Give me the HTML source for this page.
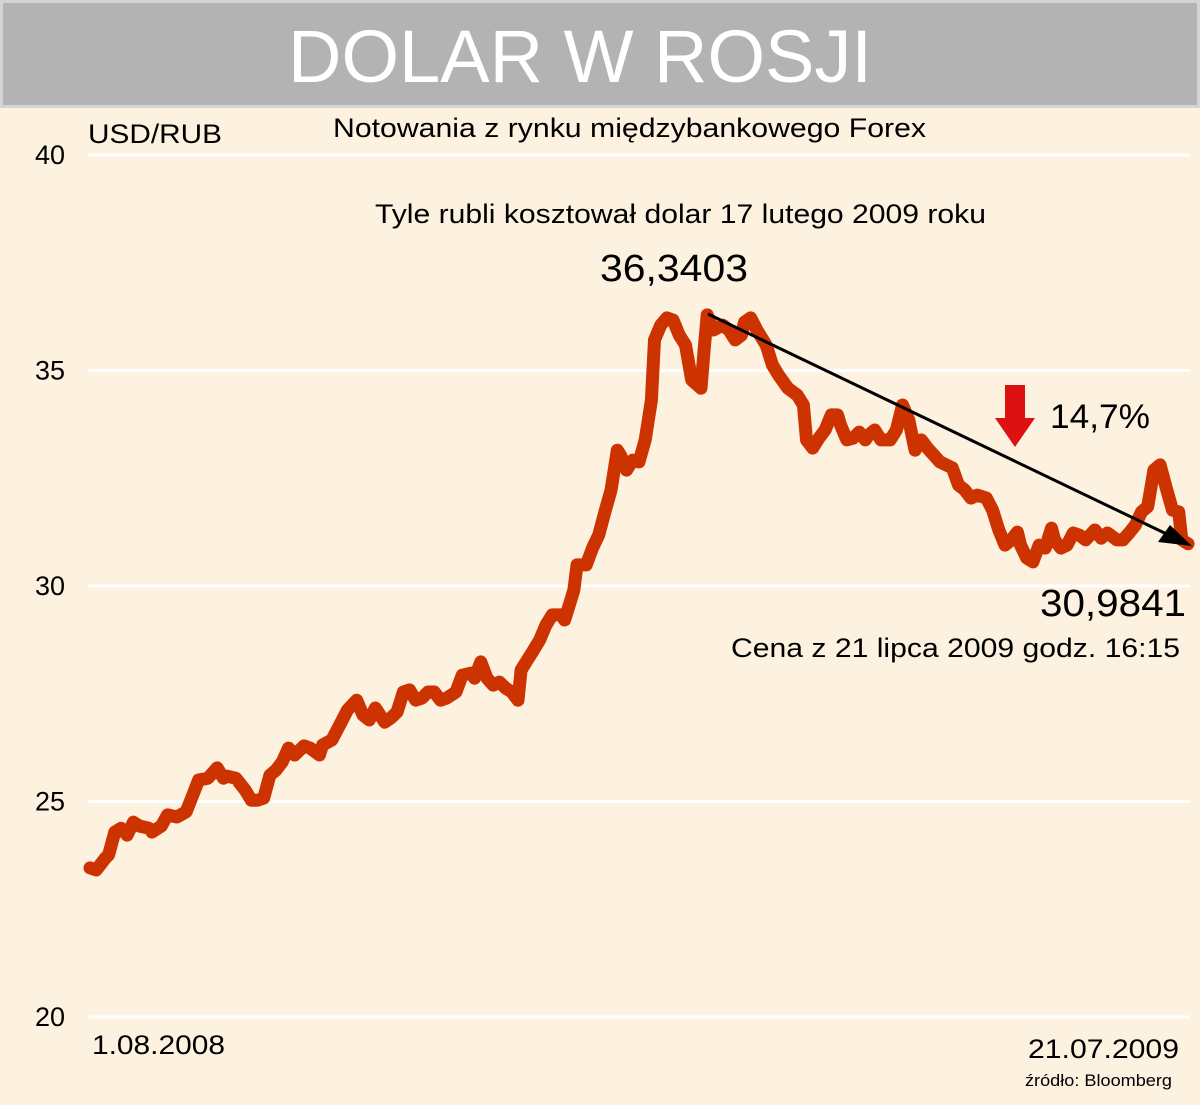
<!DOCTYPE html>
<html><head><meta charset="utf-8"><style>
html,body{margin:0;padding:0;background:#fdf1e0;}
svg{display:block;font-family:"Liberation Sans",sans-serif;}
</style></head><body>
<svg width="1200" height="1105" viewBox="0 0 1200 1105">
<rect x="0" y="0" width="1200" height="1105" fill="#fdf1e0"/>
<rect x="1.5" y="1.5" width="1197" height="105" fill="#b3b3b3" stroke="#d4d4d4" stroke-width="3"/>
<text x="288" y="82" font-size="74" fill="#fff" textLength="584" lengthAdjust="spacingAndGlyphs">DOLAR W ROSJI</text>
<g id="grid"></g>
<g id="ylabels"></g>
<text x="88" y="143" font-size="27" textLength="134" lengthAdjust="spacingAndGlyphs">USD/RUB</text>
<text x="333" y="137" font-size="27" textLength="593" lengthAdjust="spacingAndGlyphs">Notowania z rynku międzybankowego Forex</text>
<text x="375" y="223" font-size="27" textLength="611" lengthAdjust="spacingAndGlyphs">Tyle rubli kosztował dolar 17 lutego 2009 roku</text>
<text x="600" y="281" font-size="38" textLength="148" lengthAdjust="spacingAndGlyphs">36,3403</text>
<path id="line" fill="none" stroke="#cc3300" stroke-width="13" stroke-linejoin="round" stroke-linecap="round"/>
<line x1="708" y1="314" x2="1175" y2="538" stroke="#000" stroke-width="3"/>
<polygon points="1192,546 1158,542 1170,525" fill="#000"/>
<polygon points="1005,385 1025,385 1025,418 1035,418 1015,447 995,418 1005,418" fill="#dd1111"/>
<text x="1050" y="428" font-size="34" textLength="100" lengthAdjust="spacingAndGlyphs">14,7%</text>
<text x="1040" y="616" font-size="38" textLength="146" lengthAdjust="spacingAndGlyphs">30,9841</text>
<text x="731" y="657" font-size="27" textLength="449" lengthAdjust="spacingAndGlyphs">Cena z 21 lipca 2009 godz. 16:15</text>
<text x="92" y="1054" font-size="27" textLength="133" lengthAdjust="spacingAndGlyphs">1.08.2008</text>
<text x="1028" y="1058" font-size="27" textLength="151" lengthAdjust="spacingAndGlyphs">21.07.2009</text>
<text x="1025" y="1086" font-size="17" textLength="147" lengthAdjust="spacingAndGlyphs">źródło: Bloomberg</text>
</svg>
<script>
const yTicks=[20,25,30,35,40];
const yTickLabels=["20","25","30","35","40"];
const days=[0,2,5,6,8,10,12,14,16,19,20,23,25,28,31,34,35,38,41,43,44,47,50,52,54,56,58,60,62,64,66,69,71,74,75,78,81,83,86,88,90,92,95,97,99,101,103,105,107,109,111,113,115,118,120,123,124,126,128,130,132,134,136,138,139,141,143,145,147,149,152,153,155,156,157,160,162,164,166,168,170,171,173,175,177,179,181,182,184,186,188,190,192,194,197,198,199,201,204,206,208,210,211,213,215,218,220,222,225,228,230,231,233,235,237,239,241,242,244,246,248,250,251,253,255,258,260,262,264,266,268,270,272,274,276,278,280,282,284,286,289,291,293,295,297,299,300,302,304,306,308,310,311,313,315,317,319,321,324,326,328,329,331,333,335,337,339,341,343,345,347,349,351,352,354];
const values=[23.46,23.41,23.69,23.76,24.29,24.38,24.22,24.52,24.43,24.38,24.29,24.43,24.69,24.64,24.76,25.31,25.50,25.54,25.78,25.54,25.59,25.54,25.27,25.03,25.03,25.08,25.61,25.73,25.92,26.24,26.08,26.29,26.24,26.08,26.31,26.43,26.84,27.12,27.35,27.01,26.89,27.17,26.84,26.94,27.08,27.54,27.59,27.35,27.40,27.54,27.54,27.35,27.40,27.54,27.93,27.98,27.86,28.24,27.86,27.70,27.77,27.63,27.54,27.35,28.05,28.28,28.51,28.75,29.09,29.33,29.33,29.21,29.67,29.91,30.49,30.49,30.88,31.18,31.72,32.23,33.15,33.04,32.69,32.92,32.88,33.39,34.31,35.71,36.05,36.22,36.17,35.82,35.59,34.78,34.59,35.47,36.29,35.94,36.05,35.94,35.71,35.82,36.12,36.22,35.94,35.59,35.13,34.89,34.59,34.43,34.20,33.39,33.20,33.43,33.62,33.97,33.97,33.73,33.39,33.43,33.57,33.39,33.50,33.62,33.39,33.39,33.62,34.20,33.85,33.15,33.39,33.20,33.04,32.88,32.81,32.74,32.34,32.23,32.04,32.11,32.04,31.76,31.30,30.95,31.07,31.25,30.95,30.65,30.56,30.95,30.88,31.34,31.07,30.88,30.95,31.23,31.18,31.07,31.30,31.11,31.23,31.18,31.07,31.07,31.23,31.41,31.72,31.84,32.69,32.81,32.27,31.76,31.72,31.07,30.98];
const NS="http://www.w3.org/2000/svg";
const x0=90,x1=1188,totalDays=354;
function yScale(v){return 1017-(v-20)*43.1;}
function xScale(d){return x0+(x1-x0)*d/totalDays;}
const grid=document.getElementById('grid'),yl=document.getElementById('ylabels');
yTicks.forEach((t,i)=>{
  const l=document.createElementNS(NS,'line');
  
  
  l.setAttribute('x1',88);l.setAttribute('x2',1190);
  l.setAttribute('y1',yScale(t));l.setAttribute('y2',yScale(t));
  l.setAttribute('stroke','#ffffff');l.setAttribute('stroke-width','3');
  grid.appendChild(l);
  const tx=document.createElementNS(NS,'text');
  
  
  tx.setAttribute('x',65);tx.setAttribute('y',yScale(t)+9);
  tx.setAttribute('font-size','27');tx.setAttribute('text-anchor','end');
  tx.textContent=yTickLabels[i];
  yl.appendChild(tx);
});
const n=Math.min(days.length,values.length);
let d='';
for(let i=0;i<n;i++){d+=(i?'L':'M')+xScale(days[i]).toFixed(1)+','+yScale(values[i]).toFixed(1);}
document.getElementById('line').setAttribute('d',d);
</script>
</body></html>
